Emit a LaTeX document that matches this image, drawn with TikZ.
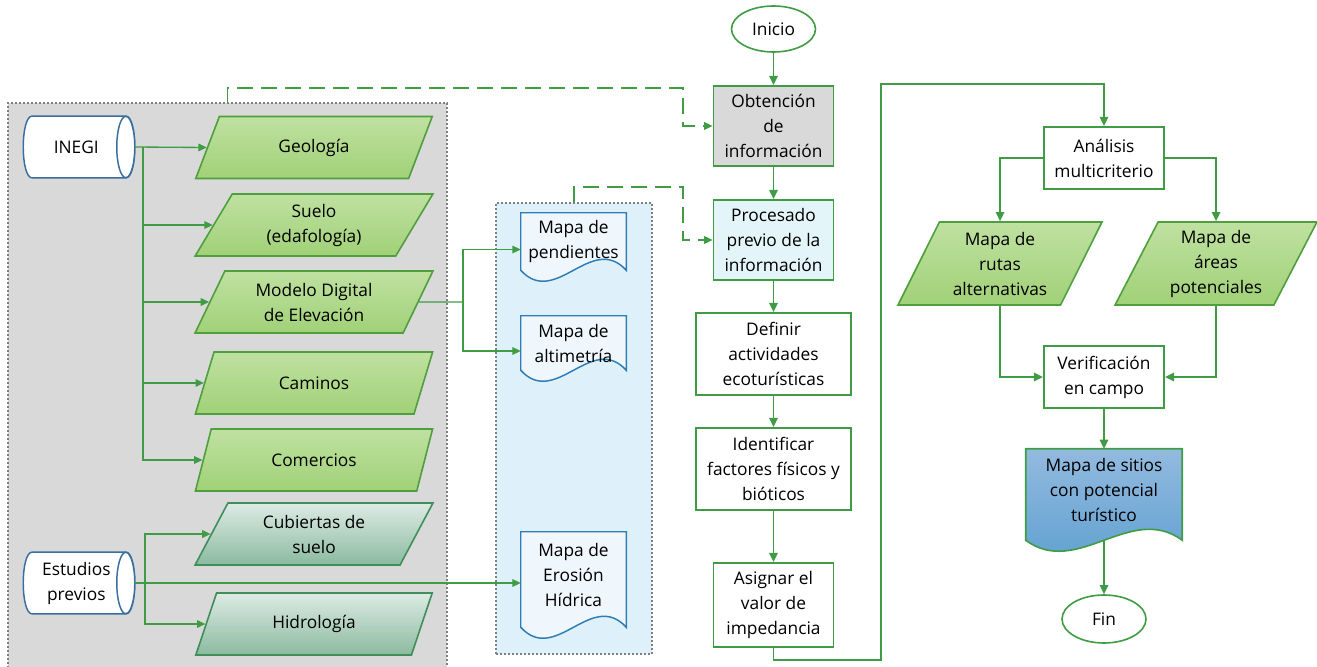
\documentclass[tikz,border=0pt]{standalone}
\usepackage{fontspec}
\setmainfont{Open Sans}
\usepackage{tikz}
\usetikzlibrary{calc,arrows.meta,positioning,shapes.geometric,backgrounds}
\definecolor{linec}{HTML}{3F9C45}
\definecolor{grayf}{HTML}{D9D9D9}
\definecolor{grayd}{HTML}{7F7F7F}
\definecolor{skyf}{HTML}{DEF1FA}
\definecolor{procf}{HTML}{E4F5FA}
\definecolor{docc}{HTML}{2E7DB5}
\definecolor{docf}{HTML}{EFF6FC}
\definecolor{cylc}{HTML}{3A6E9E}
\definecolor{grntop}{HTML}{BFE1A1}
\definecolor{grnbot}{HTML}{A1D177}
\definecolor{grnb}{HTML}{4F9F3F}
\definecolor{tealtop}{HTML}{DDEBE5}
\definecolor{tealbot}{HTML}{8BBA9F}
\definecolor{tealb}{HTML}{3F8E5B}
\definecolor{blutop}{HTML}{93BADF}
\definecolor{blubot}{HTML}{5A9ECF}
\newcommand{\ftx}{\fontsize{13}{18.75}\selectfont}
% document outline with wavy bottom, behind node #1
\newcommand{\docshape}[2]{%
  \draw[#2] (#1.south east) -- (#1.north east) -- (#1.north west) -- (#1.south west)
    .. controls ($(#1.south west)!0.33!(#1.south east)+(0,38)$) and ($(#1.south west)!0.67!(#1.south east)+(0,-38)$) .. (#1.south east) -- cycle;}
% horizontal drum, behind node #1
\newcommand{\cylshape}[2]{%
  \draw[#2] ($(#1.north east)+(-9,0)$) -- ($(#1.north west)+(9,0)$)
    .. controls ($(#1.north west)+(-3,0)$) and ($(#1.south west)+(-3,0)$) .. ($(#1.south west)+(9,0)$)
    -- ($(#1.south east)+(-9,0)$)
    .. controls ($(#1.south east)+(3,0)$) and ($(#1.north east)+(3,0)$) .. cycle;
  \draw[#2] ($(#1.east)+(-9,0)$) ellipse [x radius=6.75pt,y radius=23pt];}
\tikzset{
  ar/.style={-{Triangle[length=2.4mm,width=2.2mm]},line width=1.4pt,linec},
  arl/.style={-{Triangle[length=2.2mm,width=2mm]},line width=1pt,linec},
  ln/.style={line width=1pt,linec},
  dar/.style={arl,dash pattern=on 12pt off 6pt},
  box/.style={draw=linec,line width=1.4pt,fill=white,align=center,inner sep=2pt,font=\ftx},
  term/.style={ellipse,draw=linec,line width=1.2pt,fill=white,minimum width=63pt,minimum height=34.5pt,inner sep=0pt,font=\ftx},
  datag/.style={trapezium,trapezium left angle=63,trapezium right angle=117,trapezium stretches=true,draw=grnb,line width=1.2pt,top color=grntop,bottom color=grnbot,minimum width=178.5pt,minimum height=46.5pt,align=center,inner sep=0pt,font=\ftx},
  datat/.style={datag,draw=tealb,top color=tealtop,bottom color=tealbot},
  store/.style={rectangle,minimum width=83.25pt,minimum height=46pt,align=center,inner sep=0pt,font=\ftx},
  doc/.style={rectangle,minimum width=78.75pt,align=center,inner sep=0pt,font=\ftx},
  grp/.style={rectangle,draw=grayd,line width=0.8pt,dash pattern=on 1.5pt off 1.5pt}
}
\begin{document}
\begin{tikzpicture}[x=0.75pt,y=-0.75pt]
\useasboundingbox (0,0) rectangle (1317,667);
% group frames
\begin{scope}[on background layer]
\node[grp,fill=grayf,minimum width=329.25pt,minimum height=425.25pt] (gbox) at (227.5,386.5) {};
\node[grp,fill=skyf,minimum width=117pt,minimum height=338.25pt] (bbox) at (574,428.5) {};
\end{scope}
% sources
\node[store] (inegi) at (79,147) {INEGI\kern4pt};
\node[store] (estud) at (79,583) {Estudios\kern4pt\\previos\kern4pt};
% input layers
\node[datag] (geol) at (314,147.5) {Geología};
\node[datag] (suelo) at (314,225) {Suelo\\(edafología)};
\node[datag] (mde) at (314,302) {Modelo Digital\\de Elevación};
\node[datag] (camin) at (314,383) {Caminos};
\node[datag] (comer) at (314,460) {Comercios};
\node[datat] (cubie) at (314,534) {Cubiertas de\\suelo};
\node[datat] (hidro) at (314,624) {Hidrología};
% derived maps
\node[doc,minimum height=42.75pt] (pend) at (573.5,241.5) {Mapa de\\pendientes};
\node[doc,minimum height=40.5pt] (alti) at (573.5,343) {Mapa de\\altimetría};
\node[doc,minimum height=71.25pt,text depth=7pt] (eros) at (573.5,579.5) {Mapa de\\Erosión\\Hídrica};
% main flow
\node[term] (inicio) at (773.5,29) {Inicio};
\node[box,fill=grayf,minimum width=90pt,minimum height=60pt] (obt) at (773.5,126) {Obtención\\de\\información};
\node[box,fill=procf,minimum width=90pt,minimum height=60pt] (proc) at (773.5,240) {Procesado\\previo de la\\información};
\node[box,minimum width=116.25pt,minimum height=61.5pt] (defin) at (773.5,354) {Definir\\actividades\\ecoturísticas};
\node[box,minimum width=116.25pt,minimum height=61.5pt] (ident) at (773.5,469) {Identificar\\factores físicos y\\bióticos};
\node[box,minimum width=90pt,minimum height=63pt] (asig) at (773.5,605) {Asignar el\\valor de\\impedancia};
\node[box,minimum width=90pt,minimum height=46.5pt] (anal) at (1104,158) {Análisis\\multicriterio};
\node[datag,minimum width=153pt,minimum height=62.25pt] (rutas) at (1000,263.5) {Mapa de\\rutas\\alternativas};
\node[datag,minimum width=151.5pt,minimum height=62.25pt] (areas) at (1216,263.5) {Mapa de\\áreas\\potenciales};
\node[box,minimum width=90pt,minimum height=46.5pt] (verif) at (1104,377) {Verificación\\en campo};
\node[doc,minimum width=117pt,minimum height=68.25pt,text depth=7pt] (sitios) at (1104,494.5) {Mapa de sitios\\con potencial\\turístico};
\node[term,minimum height=36pt] (fin) at (1104,619) {Fin};
% outlines drawn behind the texts
\begin{scope}[on background layer]
\cylshape{inegi}{draw=cylc,line width=1.1pt,fill=white}
\cylshape{estud}{draw=cylc,line width=1.1pt,fill=white}
\docshape{pend}{draw=docc,line width=1.1pt,fill=docf}
\docshape{alti}{draw=docc,line width=1.1pt,fill=docf}
\docshape{eros}{draw=docc,line width=1.1pt,fill=docf}
\docshape{sitios}{draw=linec,line width=1.2pt,top color=blutop,bottom color=blubot}
\end{scope}
% left connectors
\coordinate (tI) at (143,147);
\coordinate (tE) at (145,583);
\coordinate (tM) at (463,302);
\draw[arl] (inegi.east) -- (geol.west);
\foreach \n in {suelo,mde,camin,comer}
  \draw[arl] (tI) |- (\n.west);
\draw[arl] (estud.east) -- (estud.east -| eros.west);
\foreach \n in {cubie,hidro}
  \draw[arl] (tE) |- (\n.west);
\draw[ln] (mde.east) -- (tM);
\draw[arl] (tM) |- ($(pend.west)+(0,8)$);
\draw[arl] (tM) |- ($(alti.west)+(0,8)$);
% dashed links
\coordinate (jA) at (683,88);
\coordinate (jB) at (683,187);
\draw[dar] (gbox.north) |- (jA) |- (obt.west);
\draw[dar] (bbox.north) |- (jB) |- (proc.west);
% main column
\draw[ar] (inicio.south) -- (obt.north);
\draw[ar] (obt.south) -- (proc.north);
\draw[ar] (proc.south) -- (defin.north);
\draw[ar] (defin.south) -- (ident.north);
\draw[ar] (ident.south) -- (asig.north);
\coordinate (lpA) at (881,660);
\coordinate (lpB) at (881,84);
\draw[ar] (asig.south) |- (lpA) -- (lpB) -| (anal.north);
\draw[ar] (anal.west) -| (rutas.north);
\draw[ar] (anal.east) -| (areas.north);
\draw[ar] (rutas.south) |- (verif.west);
\draw[ar] (areas.south) |- (verif.east);
\draw[ar] (verif.south) -- (sitios.north);
\draw[ar] (sitios.south) -- (fin.north);
\end{tikzpicture}
\end{document}
